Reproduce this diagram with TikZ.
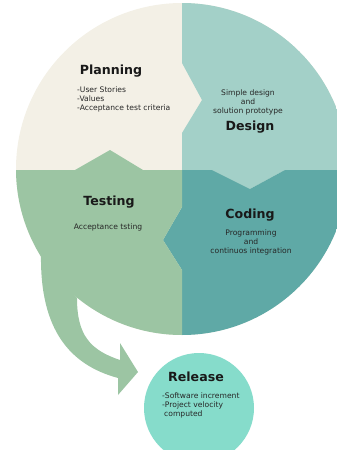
\documentclass[tikz,border=0pt]{standalone}
\usepackage{fontspec}
\setmainfont{DejaVu Sans}
\definecolor{cream}{HTML}{F3F0E6}
\definecolor{designteal}{HTML}{A3D0C8}
\definecolor{codingteal}{HTML}{5FA9A6}
\definecolor{testgreen}{HTML}{9CC5A3}
\definecolor{releaseteal}{HTML}{86DCCB}
\tikzset{
  phase/.style={font=\fontsize{12.6}{14}\selectfont\bfseries, text=black!90, inner sep=0pt},
  note/.style={font=\fontsize{7.6}{9}\selectfont, text=black!85, inner sep=0pt}
}

\begin{document}
\begin{tikzpicture}[x=1pt,y=-1pt]
\useasboundingbox (0,0) rectangle (337,450);
\clip (0,0) rectangle (337,450);
% the four phases
\begin{scope}
\clip (182,169) circle (166pt);
\fill[cream] (0,0) rectangle (350,340);
\fill[designteal] (182,0) -- (350,0) -- (350,170) -- (285,170) -- (250,189) -- (212,170) -- (182,170) -- (182,133) -- (202,100) -- (182,63) -- cycle;
\fill[codingteal] (182,170) -- (212,170) -- (250,189) -- (285,170) -- (350,170) -- (350,340) -- (182,340) -- (182,270) -- (163,240) -- (182,207) -- cycle;
\fill[testgreen] (0,170) -- (75,170) -- (110,150) -- (143,170) -- (182,170) -- (182,207) -- (163,240) -- (182,270) -- (182,340) -- (0,340) -- cycle;
\end{scope}
% arrow to release
\fill[testgreen] (41,255) .. controls (40,330) and (70,365) .. (118,378) -- (118,395) -- (138,372) -- (120,343) -- (120,360) .. controls (90,350) and (77,335) .. (77,298) -- cycle;
\fill[releaseteal] (199,408) circle (55pt);
% labels
\node[phase] (planning) at (111,71) {Planning};
\node[note, anchor=west, align=left] (planningnote) at (77,99.5) {-User Stories\\-Values\\-Acceptance test criteria};
\node[note, align=center] (designnote) at (248,102) {Simple design\\and\\solution prototype};
\node[phase] (design) at (250,127) {Design};
\node[phase] (testing) at (109,202) {Testing};
\node[note] (testingnote) at (108,227) {Acceptance tsting};
\node[phase] (coding) at (250,215) {Coding};
\node[note, align=center] (codingnote) at (251,242) {Programming\\and\\continuos integration};
\node[phase] (release) at (196,377) {Release};
\node[note, anchor=west, align=left] (releasenote) at (162,405) {-Software increment\\-Project velocity\\\hspace*{2pt}computed};
\end{tikzpicture}
\end{document}
